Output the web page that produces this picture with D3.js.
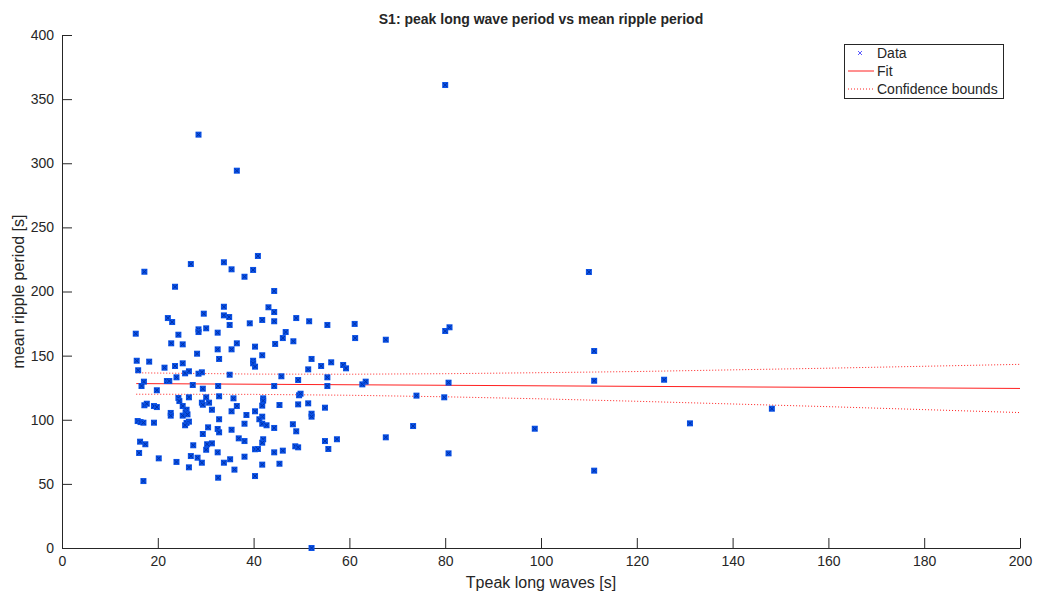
<!DOCTYPE html>
<html>
<head>
<meta charset="utf-8">
<script src="https://cdn.jsdelivr.net/npm/d3@7"></script>
<style>
  body { margin: 0; background: #fff; }
  text { font-family: "Liberation Sans", Arial, sans-serif; fill: #262626; }
</style>
</head>
<body>
<svg width="1037" height="596"></svg>
<script>
// Tpeak long waves [s]
var tpeak = [17.2,26.9,33.8,35.4,38.1,23.6,33.8,29.6,33.8,34.9,22.1,23.0,35.0,39.2,15.4,28.5,28.5,30.1,32.5,24.3,
  22.8,25.2,36.5,32.5,35.4,28.2,32.8,15.6,18.2,15.9,21.4,23.6,25.2,25.7,26.5,28.5,29.2,35.0,23.9,17.1,
  21.9,22.4,16.6,19.8,27.3,29.4,32.6,24.3,26.5,30.1,32.8,35.8,24.5,17.2,17.7,19.2,19.8,25.2,29.2,29.4,
  30.7,36.5,31.3,35.4,26.0,25.8,22.7,22.7,25.2,26.2,38.5,15.8,16.4,17.0,19.2,26.5,26.0,25.7,32.8,38.1,
  30.5,32.5,32.8,35.4,29.4,16.3,17.4,27.4,30.3,31.3,36.9,38.1,30.1,16.1,32.5,26.9,28.3,38.1,20.2,23.9,
  29.2,35.1,33.8,26.5,36.0,17.0,32.6,40.9,39.9,44.3,43.1,44.3,41.8,44.3,48.9,51.6,55.4,61.1,61.2,46.7,
  46.1,48.3,40.3,44.5,41.8,39.9,39.9,40.3,52.1,51.4,54.1,56.2,58.7,59.3,45.8,49.3,55.4,44.3,55.4,62.7,
  63.4,49.5,49.8,42.0,42.0,41.8,40.3,41.8,41.2,41.8,42.7,45.4,49.3,51.4,52.1,52.1,54.9,48.2,44.3,48.9,
  42.0,41.8,40.3,40.9,44.3,46.1,48.7,49.3,54.9,57.4,55.6,41.8,45.4,40.3,52.1,28.5,36.5,67.6,80.0,80.9,
  80.7,74.0,79.8,73.3,67.6,80.7,80.0,110.0,111.1,111.1,125.7,98.7,131.1,148.2,111.1];
// mean ripple period [s]
var ripple = [215.4,221.4,222.8,217.3,211.5,203.7,188.1,182.7,181.4,180.1,179.3,176.2,173.9,175.2,167.1,170.5,168.4,171.3,167.9,166.3,
  159.6,158.8,159.6,154.9,154.9,151.5,147.4,146.0,145.3,138.6,140.6,141.9,144.0,136.2,137.8,135.9,137.0,135.1,133.1,129.7,
  130.2,130.2,126.3,123.0,127.1,124.2,126.3,117.0,117.5,117.5,118.3,116.7,114.6,111.3,112.5,110.7,109.9,110.7,113.3,111.7,
  113.3,110.7,107.8,106.6,107.8,105.8,105.3,103.2,103.2,104.2,103.7,99.0,98.2,97.7,97.7,98.5,97.5,95.7,100.4,96.9,
  94.1,92.8,90.2,92.2,88.9,82.9,80.9,80.1,80.9,81.6,85.5,83.4,76.6,74.1,74.6,71.7,70.4,71.2,69.9,67.1,
  66.5,69.2,66.5,62.9,61.1,52.2,54.8,227.7,216.8,200.4,187.7,184.0,177.8,176.8,179.3,176.8,173.9,174.7,163.7,168.4,
  163.7,161.2,157.0,159.1,150.3,146.0,144.0,141.4,147.4,139.3,141.9,144.8,142.7,140.1,133.9,131.0,133.1,126.3,126.3,127.6,
  129.7,119.1,120.3,116.7,114.9,111.0,106.6,102.4,100.4,96.9,95.7,111.5,112.0,112.8,104.7,102.4,109.4,96.5,93.6,91.0,
  84.8,82.1,77.0,77.2,74.6,75.9,79.3,78.5,83.4,84.8,77.2,65.0,65.7,56.1,0.0,322.3,294.2,162.4,169.2,172.1,
  128.9,118.8,117.5,95.1,86.3,73.8,361.0,215.2,153.6,130.4,131.2,93.0,97.2,108.6,60.3];

// fitted line and confidence bounds
var fitX = [15.5, 200];
var fitY = [128.2, 124.4];
var boundX = [15.5, 40, 60, 80, 100, 120, 140, 160, 180, 200];
var upperY = [136.6, 135.6, 135.5, 135.9, 136.7, 137.6, 138.9, 140.2, 141.7, 143.2];
var lowerY = [119.9, 119.8, 119.1, 117.9, 116.3, 114.4, 112.3, 110.2, 107.9, 105.6];

var xTicks = [0, 20, 40, 60, 80, 100, 120, 140, 160, 180, 200];
var yTicks = [0, 50, 100, 150, 200, 250, 300, 350, 400];
var legendItems = ["Data", "Fit", "Confidence bounds"];

var svg = d3.select("svg");
var mLeft = 62, mRight = 1020, mTop = 35, mBottom = 548;

var x = d3.scaleLinear().domain([0, 200]).range([mLeft, mRight]);
var y = d3.scaleLinear().domain([0, 400]).range([mBottom, mTop]);

var axisColor = "#262626";

// axes, ticks pointing inward
var gx = svg.append("g").attr("transform", "translate(0," + mBottom + ")")
  .call(d3.axisBottom(x).tickValues(xTicks).tickSizeInner(-10).tickSizeOuter(0).tickPadding(8));
var gy = svg.append("g").attr("transform", "translate(" + mLeft + ",0)")
  .call(d3.axisLeft(y).tickValues(yTicks).tickSizeInner(-10).tickSizeOuter(0).tickPadding(8));
[gx, gy].forEach(function(g) {
  g.select(".domain").attr("stroke", axisColor).attr("stroke-width", 1);
  g.selectAll(".tick line").attr("stroke", axisColor);
  g.selectAll(".tick text").attr("font-size", 14).attr("fill", axisColor)
    .attr("font-family", "Liberation Sans, Arial, sans-serif");
});

// bounds
var line = d3.line().x(function(d) { return x(d[0]); }).y(function(d) { return y(d[1]); });
[upperY, lowerY].forEach(function(arr) {
  svg.append("path")
    .datum(boundX.map(function(v, i) { return [v, arr[i]]; }))
    .attr("d", line)
    .attr("fill", "none")
    .attr("stroke", "#ff2020")
    .attr("stroke-width", 1)
    .attr("stroke-dasharray", "1,2");
});

// fit
svg.append("path")
  .datum(fitX.map(function(v, i) { return [v, fitY[i]]; }))
  .attr("d", line)
  .attr("fill", "none")
  .attr("stroke", "#ff2020")
  .attr("stroke-width", 1);

// data points
var pts = svg.append("g").selectAll("g")
  .data(tpeak.map(function(v, i) { return [v, ripple[i]]; }))
  .enter()
  .append("g")
    .attr("transform", function(d) { return "translate(" + x(d[0]) + "," + y(d[1]) + ")"; });
pts.append("rect")
  .attr("x", -3).attr("y", -3).attr("width", 6).attr("height", 6)
  .attr("fill", "#0b52e6");
pts.append("path")
  .attr("d", "M-2,-2L2,2M-2,2L2,-2")
  .attr("stroke", "#0030a8")
  .attr("stroke-width", 1);

// title and labels
svg.append("text")
  .attr("x", (mLeft + mRight) / 2).attr("y", 24)
  .attr("text-anchor", "middle")
  .attr("font-size", 14).attr("font-weight", "bold")
  .attr("fill", "#000")
  .text("S1: peak long wave period vs mean ripple period");
svg.append("text")
  .attr("x", (mLeft + mRight) / 2).attr("y", 588)
  .attr("text-anchor", "middle")
  .attr("font-size", 16)
  .text("Tpeak long waves [s]");
svg.append("text")
  .attr("transform", "translate(24," + ((mTop + mBottom) / 2) + ") rotate(-90)")
  .attr("text-anchor", "middle")
  .attr("font-size", 16)
  .text("mean ripple period [s]");

// legend
var lg = svg.append("g");
lg.append("rect")
  .attr("x", 844.5).attr("y", 44.5).attr("width", 159).attr("height", 54)
  .attr("fill", "#fff").attr("stroke", axisColor).attr("stroke-width", 1);
var ly = [53, 71, 89];
lg.append("path")
  .attr("d", "M858,51L862,55M858,55L862,51")
  .attr("stroke", "#5a5aff").attr("stroke-width", 1);
lg.append("line").attr("x1", 848).attr("x2", 874).attr("y1", ly[1]).attr("y2", ly[1])
  .attr("stroke", "#ff2020");
lg.append("line").attr("x1", 848).attr("x2", 874).attr("y1", ly[2]).attr("y2", ly[2])
  .attr("stroke", "#ff2020").attr("stroke-dasharray", "1,2");
lg.selectAll("text.leg").data(legendItems).enter().append("text")
  .attr("class", "leg")
  .attr("x", 877).attr("y", function(d, i) { return ly[i] + 5; })
  .attr("font-size", 14).attr("fill", "#000")
  .text(function(d) { return d; });
</script>
</body>
</html>
